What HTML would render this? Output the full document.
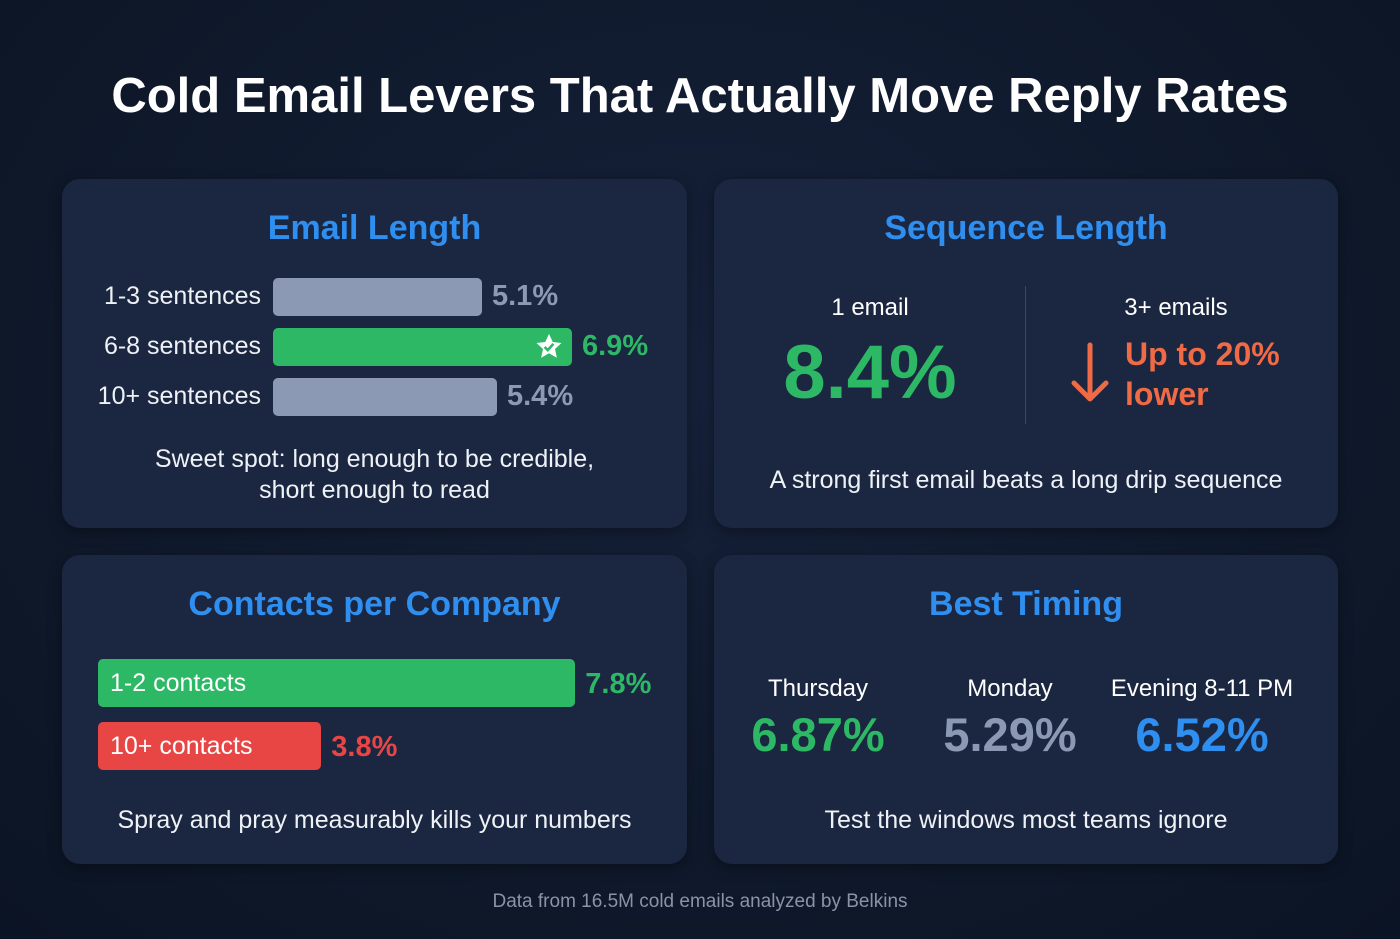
<!DOCTYPE html>
<html><head><meta charset="utf-8"><style>
*{margin:0;padding:0;box-sizing:border-box}
body{width:1400px;height:939px;overflow:hidden;font-family:"Liberation Sans",sans-serif;background:radial-gradient(ellipse at 50% 40%,#16213a 0%,#0e1829 70%,#0b1424 100%);position:relative;color:#fff}
.a{position:absolute}
.panel{position:absolute;background:#1b2740;border-radius:18px;box-shadow:0 4px 14px rgba(0,0,0,.35)}
.h2{position:absolute;width:100%;text-align:center;color:#2f8ff0;font-weight:bold;font-size:34px}
.lbl{font-size:25px;color:#eef2f7;text-align:right;width:199px}
.val{font-size:29px;font-weight:bold}
.cap{position:absolute;width:100%;text-align:center;font-size:25px;color:#eef2f7;line-height:31px}
.c{text-align:center}
</style></head><body>
<div class="a c" style="left:0;top:68px;width:1400px;font-size:49px;font-weight:bold">Cold Email Levers That Actually Move Reply Rates</div>

<div class="panel" style="left:62px;top:179px;width:625px;height:349px">
 <div class="h2" style="top:30px">Email Length</div>
 <div id="elen"></div>
 <div class="cap" style="top:265px">Sweet spot: long enough to be credible,<br>short enough to read</div>
</div>

<div class="panel" style="left:714px;top:179px;width:624px;height:349px">
 <div class="h2" style="top:30px">Sequence Length</div>
 <div class="a c" style="left:56px;top:115px;width:200px;font-size:24px">1 email</div>
 <div class="a c" style="left:36px;top:150px;width:240px;font-size:76px;font-weight:bold;color:#2db866">8.4%</div>
 <div class="a" style="left:311px;top:107px;width:1px;height:138px;background:#3a4864"></div>
 <div class="a c" style="left:362px;top:115px;width:200px;font-size:24px">3+ emails</div>
 <svg class="a" style="left:352px;top:162px" width="48" height="64"><path d="M24 4V58M8 42L24 58L40 42" stroke="#ef6a45" stroke-width="5" fill="none" stroke-linecap="round" stroke-linejoin="round"/></svg>
 <div class="a" style="left:411px;top:155px;font-size:32px;font-weight:bold;color:#ef6a45;line-height:40px">Up to 20%<br>lower</div>
 <div class="cap" style="top:286px">A strong first email beats a long drip sequence</div>
</div>

<div class="panel" style="left:62px;top:555px;width:625px;height:309px">
 <div class="h2" style="top:30px">Contacts per Company</div>
 <div id="cont"></div>
 <div class="cap" style="top:250px">Spray and pray measurably kills your numbers</div>
</div>

<div class="panel" style="left:714px;top:555px;width:624px;height:309px">
 <div class="h2" style="top:30px">Best Timing</div>
 <div id="tim"></div>
 <div class="cap" style="top:250px">Test the windows most teams ignore</div>
</div>

<div class="a c" style="left:0;top:891px;width:1400px;font-size:19px;color:#8a94a8">Data from 16.5M cold emails analyzed by Belkins</div>

<script>
const lenCats=["1-3 sentences","6-8 sentences","10+ sentences"];
const lenVals=[5.1,6.9,5.4];
const lenBest=[false,true,false];
const contCats=["1-2 contacts","10+ contacts"];
const contVals=[7.8,3.8];
const timeCats=["Thursday","Monday","Evening 8-11 PM"];
const timeVals=["6.87%","5.29%","6.52%"];
const timeColors=["#2db866","#8b99b4","#2f8ff0"];

const lx=v=>(v-0.92)*50;
const el=document.getElementById('elen');
lenCats.forEach((c,i)=>{
 const y=99+i*50;
 const l=document.createElement('div');l.className='a lbl';l.style.cssText=`left:0;top:${y+4}px`;l.textContent=c;
 
 
 el.appendChild(l);
 const w=lx(lenVals[i]);
 const b=document.createElement('div');b.className='a';
 b.style.cssText=`left:211px;top:${y}px;width:${w}px;height:38px;border-radius:5px;background:${lenBest[i]?'#2db866':'#8b99b4'}`;
 
 
 if(lenBest[i]){b.innerHTML='<svg style="position:absolute;right:8px;top:4px" width="30" height="30" viewBox="0 0 24 24"><path d="M12 1.5l3 6.5 7 .8-5.2 4.8 1.5 7L12 17l-6.3 3.6 1.5-7L2 8.8l7-.8z" fill="#fff"/><path d="M8.5 12l2.5 2.5 4.5-5" stroke="#2db866" stroke-width="2" fill="none"/></svg>';}
 el.appendChild(b);
 const v=document.createElement('div');v.className='a val';
 v.style.cssText=`left:${211+w+10}px;top:${y+2}px;color:${lenBest[i]?'#2db866':'#8b99b4'}`;
 v.textContent=lenVals[i]+'%';
 
 
 el.appendChild(v);
});

const cx=v=>v*63.5-18;
const ct=document.getElementById('cont');
contCats.forEach((c,i)=>{
 const y=104+i*63;const w=cx(contVals[i]);const col=i==0?'#2db866':'#e84545';
 const b=document.createElement('div');b.className='a';
 b.style.cssText=`left:36px;top:${y}px;width:${w}px;height:48px;border-radius:5px;background:${col};font-size:25px;padding:10px 12px;color:#fff;white-space:nowrap`;
 b.textContent=c;
 
 
 ct.appendChild(b);
 const v=document.createElement('div');v.className='a val';
 v.style.cssText=`left:${36+w+10}px;top:${y+9}px;color:${col}`;v.textContent=contVals[i]+'%';
 
 
 ct.appendChild(v);
});

const tm=document.getElementById('tim');
timeCats.forEach((c,i)=>{
 const cxp=104+i*192;
 const l=document.createElement('div');l.className='a c';
 l.style.cssText=`left:${cxp-110}px;top:120px;width:220px;font-size:24px`;l.textContent=c;
 
 
 tm.appendChild(l);
 const v=document.createElement('div');v.className='a c';
 v.style.cssText=`left:${cxp-110}px;top:152px;width:220px;font-size:47px;font-weight:bold;color:${timeColors[i]}`;v.textContent=timeVals[i];
 
 
 tm.appendChild(v);
});
</script>
</body></html>
